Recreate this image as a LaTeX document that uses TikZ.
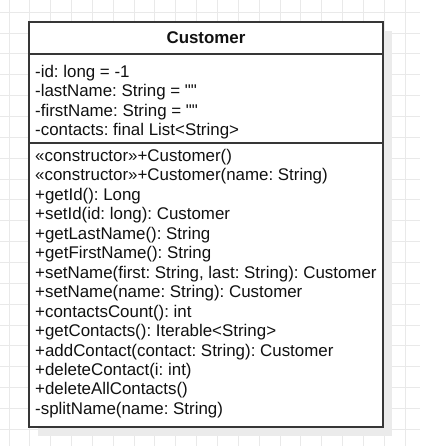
\documentclass[tikz,border=0pt]{standalone}
\usepackage{fontspec}
\setmainfont{Liberation Sans}[Ligatures=TeXOff]
\frenchspacing
\definecolor{gridc}{HTML}{E9E9E9}
\definecolor{shadowc}{HTML}{EBEBEB}
\definecolor{linec}{HTML}{363636}
\definecolor{textc}{HTML}{111111}
\tikzset{
  txt/.style={anchor=base west, inner sep=0pt, text=textc, font=\fontsize{16.9}{19.4}\selectfont\frenchspacing},
  ttl/.style={anchor=base, inner sep=0pt, text=textc, font=\fontsize{16.9}{19.4}\selectfont\bfseries},
  boxline/.style={draw=linec, line width=1.4pt},
  gridline/.style={draw=gridc, line width=1pt}
}
\begin{document}
\begin{tikzpicture}[x=1pt,y=-1pt]
\useasboundingbox (0,0) rectangle (420,446);
\fill[white] (0,0) rectangle (420,446);
% grid
\foreach \k in {0,...,20} {
  \draw[gridline] ({9+\k*20.85},0) -- ({9+\k*20.85},446);
  \draw[gridline] (0,{12.3+\k*20.85}) -- (420,{12.3+\k*20.85});
}
% shadow
\fill[shadowc] (38,31) rectangle (392,436);
% class box
\coordinate (nw) at (29,22);
\coordinate (se) at (383,427);
\filldraw[boxline, fill=white] (nw) rectangle (se);
\coordinate (s1w) at (29,54);
\coordinate (s1e) at (383,54);
\coordinate (s2w) at (29,143);
\coordinate (s2e) at (383,143);
\draw[boxline] (s1w) -- (s1e);
\draw[boxline] (s2w) -- (s2e);
% title
\node[ttl] (title) at (206,43.5) {Customer};
% attributes
\node[txt] (a1) at (35,77.5) {-id: long = -1};
\node[txt] (a2) at (35,97) {-lastName: String = ""};
\node[txt] (a3) at (35,116.5) {-firstName: String = ""};
\node[txt] (a4) at (35,136) {-contacts: final List<String>};
% methods
\node[txt] (m1) at (35,161.5) {«constructor»+Customer()};
\node[txt] (m2) at (35,180.95) {«constructor»+Customer(name: String)};
\node[txt] (m3) at (35,200.4) {+getId(): Long};
\node[txt] (m4) at (35,219.85) {+setId(id: long): Customer};
\node[txt] (m5) at (35,239.3) {+getLastName(): String};
\node[txt] (m6) at (35,258.75) {+getFirstName(): String};
\node[txt] (m7) at (35,278.2) {+setName(first: String, last: String): Customer};
\node[txt] (m8) at (35,297.65) {+setName(name: String): Customer};
\node[txt] (m9) at (35,317.1) {+contactsCount(): int};
\node[txt] (m10) at (35,336.55) {+getContacts(): Iterable<String>};
\node[txt] (m11) at (35,356) {+addContact(contact: String): Customer};
\node[txt] (m12) at (35,375.45) {+deleteContact(i: int)};
\node[txt] (m13) at (35,394.9) {+deleteAllContacts()};
\node[txt] (m14) at (35,414.35) {-splitName(name: String)};
\end{tikzpicture}
\end{document}
